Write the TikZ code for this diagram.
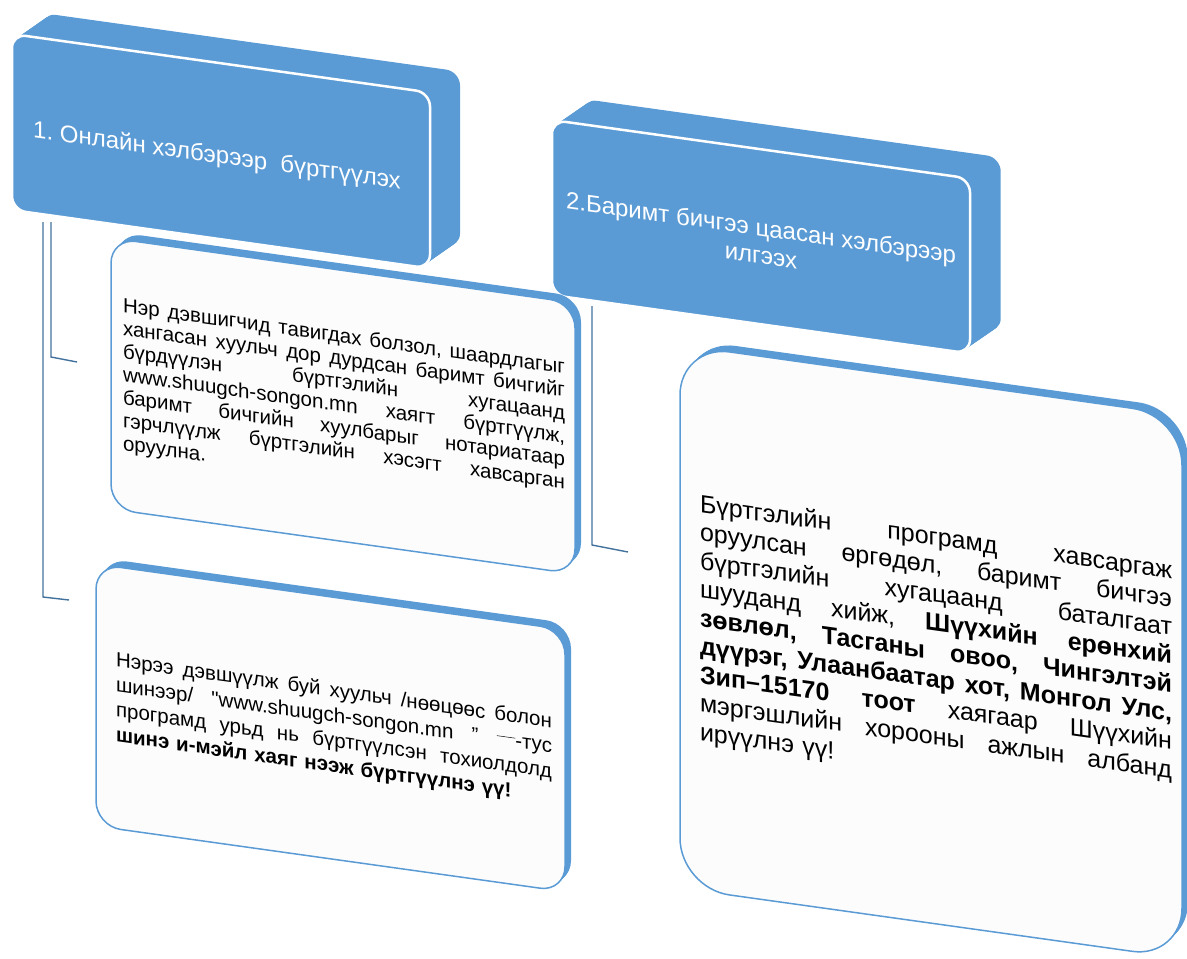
\documentclass[tikz,border=0pt]{standalone}
\usepackage{fontspec}
\setmainfont{Liberation Sans}
\newfontfamily\qf{Liberation Sans}[Ligatures=TeXOff]
\definecolor{hblue}{HTML}{5B9BD5}
\definecolor{lblue}{HTML}{41719C}
\definecolor{facew}{HTML}{FCFCFC}
\newcommand{\jl}[2]{\leavevmode\hbox to #1{\spaceskip=0.28em plus 1fil\relax #2}}
\frenchspacing
\begin{document}
\begin{tikzpicture}[x=1pt,y=-1pt,
  conn/.style={draw=lblue,line width=1.4pt},
  hdrface/.style={fill=hblue,draw=white,line width=2.5pt,rounded corners=14pt},
  hdrside/.style={fill=hblue,rounded corners=14pt},
  kidface/.style={fill=facew,draw=hblue,line width=1.5pt},
  kidside/.style={fill=hblue},
  hdrtext/.style={text=white,font=\fontsize{24}{28}\selectfont,align=center,transform shape,inner sep=0pt},
  bodytext/.style={text=black,align=left,transform shape,inner sep=0pt},
]
\useasboundingbox (0,0) rectangle (1187,959);

% connectors
\coordinate (s1b) at (43,222);
\coordinate (e1b) at (43,597);
\coordinate (t1b) at (69,600);
\coordinate (s1a) at (51,222);
\coordinate (e1a) at (51,357);
\coordinate (t1a) at (77,362);
\coordinate (s2a) at (592,306);
\coordinate (e2a) at (592,545);
\coordinate (t2a) at (628,552);
\draw[conn] (s1b) -- (e1b) -- (t1b);
\draw[conn] (s1a) -- (e1a) -- (t1a);
\draw[conn] (s2a) -- (e2a) -- (t2a);

% header 1
\begin{scope}[shift={(12,34)},yslant=-0.14]
  \foreach \t in {0,...,24} \fill[hdrside] (\t*1.25,-\t*1.05) rectangle ++(418,176);
  \filldraw[hdrface] (0,0) rectangle (418,176);
  \node[hdrtext] (h1) at (205,94) {1. Онлайн хэлбэрээр\ \ бүртгүүлэх};
\end{scope}

% header 2
\begin{scope}[shift={(552,120)},yslant=-0.14]
  \foreach \t in {0,...,24} \fill[hdrside] (\t*1.28,-\t*1.06) rectangle ++(418,175);
  \filldraw[hdrface] (0,0) rectangle (418,175);
  \node[hdrtext] (h2) at (209,92) {2.Баримт бичгээ цаасан хэлбэрээр\\илгээх};
\end{scope}

% child 1a
\begin{scope}[shift={(111,238)},yslant=-0.14]
  \foreach \t in {1,...,8} \fill[kidside,rounded corners=25pt] (\t*0.75,-\t*0.855) rectangle ++(464,271);
  \filldraw[kidface,rounded corners=25pt] (0,0) rectangle (464,271);
  \node[bodytext,text width=442pt,font=\fontsize{20.5}{23}\selectfont] (b1a) at (233,136) {%
\jl{442pt}{Нэр дэвшигчид тавигдах болзол, шаардлагыг}\\
\jl{442pt}{хангасан хуульч дор дурдсан баримт бичгийг}\\
\jl{442pt}{бүрдүүлэн бүртгэлийн хугацаанд}\\
\jl{442pt}{www.shuugch-songon.mn хаягт бүртгүүлж,}\\
\jl{442pt}{баримт бичгийн хуулбарыг нотариатаар}\\
\jl{442pt}{гэрчлүүлж бүртгэлийн хэсэгт хавсарган}\\
оруулна.};
\end{scope}

% child 1b
\begin{scope}[shift={(96,564)},yslant=-0.14]
  \foreach \t in {1,...,8} \fill[kidside,rounded corners=25pt] (\t*0.75,-\t*0.855) rectangle ++(469,262);
  \filldraw[kidface,rounded corners=25pt] (0,0) rectangle (469,262);
  \node[bodytext,text width=436pt,font=\fontsize{20.5}{25}\selectfont] (b1b) at (238,132) {%
\jl{436pt}{Нэрээ дэвшүүлж буй хуульч /нөөцөөс болон}\\
\jl{436pt}{шинээр/ {\qf"}www.shuugch-songon.mn ” \rule[0.45em]{0.9em}{0.5pt}-тус}\\
\jl{436pt}{програмд урьд нь бүртгүүлсэн тохиолдолд}\\
\textbf{шинэ и-мэйл хаяг нээж бүртгүүлнэ үү!}};
\end{scope}

% child 2a
\begin{scope}[shift={(680,345)},yslant=-0.14]
  \foreach \t in {1,...,8} \fill[kidside,rounded corners=50pt] (\t*0.75,-\t*0.855) rectangle ++(502,543);
  \filldraw[kidface,rounded corners=50pt] (0,0) rectangle (502,543);
  \node[bodytext,text width=472pt,font=\fontsize{25}{28.5}\selectfont] (b2a) at (256,272) {%
\jl{472pt}{Бүртгэлийн програмд хавсаргаж}\\
\jl{472pt}{оруулсан өргөдөл, баримт бичгээ}\\
\jl{472pt}{бүртгэлийн хугацаанд баталгаат}\\
\jl{472pt}{шууданд хийж, \textbf{Шүүхийн ерөнхий}}\\
\jl{472pt}{\textbf{зөвлөл, Тасганы овоо, Чингэлтэй}}\\
\jl{472pt}{\textbf{дүүрэг, Улаанбаатар хот, Монгол Улс,}}\\
\jl{472pt}{\textbf{Зип–15170 тоот} хаягаар Шүүхийн}\\
\jl{472pt}{мэргэшлийн хорооны ажлын албанд}\\
ирүүлнэ үү!};
\end{scope}
\end{tikzpicture}
\end{document}
